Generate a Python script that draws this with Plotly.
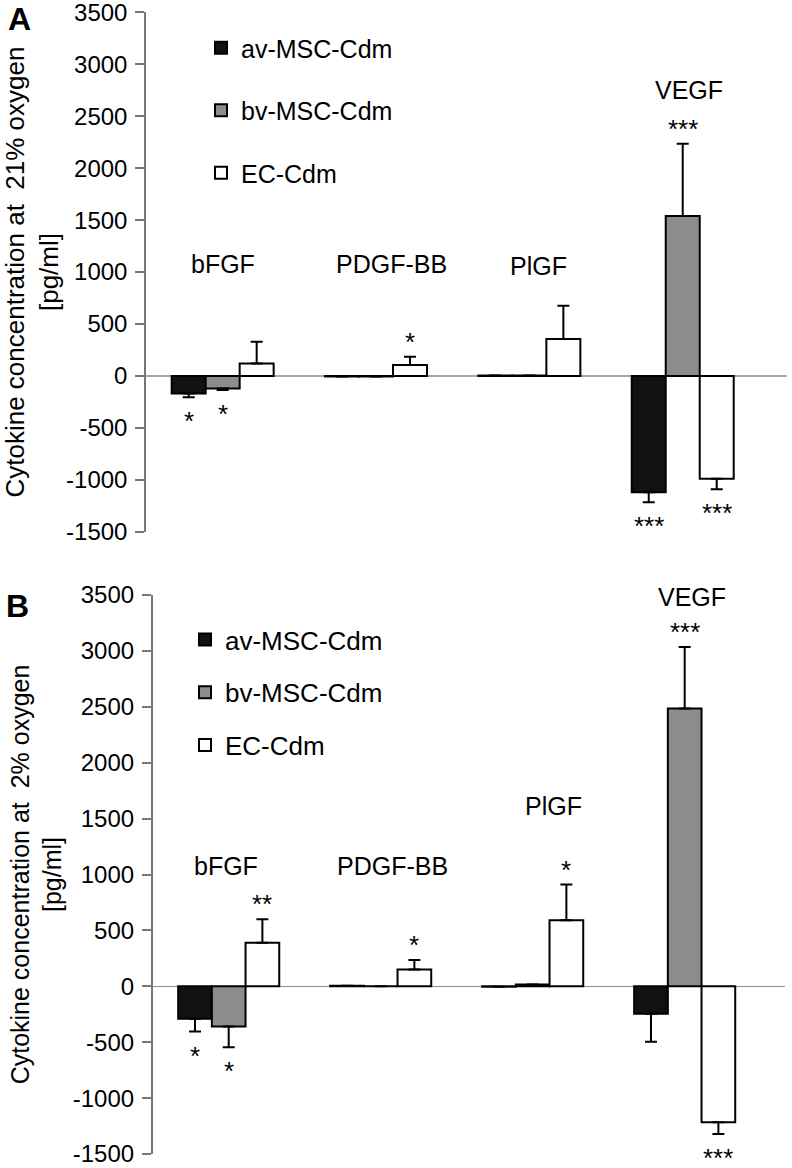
import plotly.graph_objects as go

categories = ["bFGF", "PDGF-BB", "PlGF", "VEGF"]
series_names = ["av-MSC-Cdm", "bv-MSC-Cdm", "EC-Cdm"]
series_colors = ["#111111", "#8c8c8c", "#ffffff"]

# Panel A: 21% oxygen
a_av = [-170, -5, 5, -1120]
a_av_err = [35, 0, 0, 95]
a_bv = [-120, -5, 5, 1540]
a_bv_err = [15, 0, 0, 695]
a_ec = [120, 105, 355, -990]
a_ec_err = [210, 80, 320, 100]
a_av_sig = ["*", "", "", "***"]
a_bv_sig = ["*", "", "", "***"]
a_ec_sig = ["", "*", "", "***"]

# Panel B: 2% oxygen
b_av = [-290, 5, -5, -245]
b_av_err = [115, 0, 0, 250]
b_bv = [-360, 0, 15, 2485]
b_bv_err = [185, 0, 0, 550]
b_ec = [390, 150, 590, -1215]
b_ec_err = [210, 85, 320, 105]
b_av_sig = ["*", "", "", ""]
b_bv_sig = ["*", "", "", "***"]
b_ec_sig = ["**", "*", "*", "***"]

y_ticks = [-1500, -1000, -500, 0, 500, 1000, 1500, 2000, 2500, 3000, 3500]
y_tick_labels = [str(v) for v in y_ticks]

panels = [
    dict(vals=[a_av, a_bv, a_ec], errs=[a_av_err, a_bv_err, a_ec_err],
         sigs=[a_av_sig, a_bv_sig, a_ec_sig], xa="x", ya="y", legend="legend",
         title="Cytokine concentration at  21% oxygen<br>[pg/ml]"),
    dict(vals=[b_av, b_bv, b_ec], errs=[b_av_err, b_bv_err, b_ec_err],
         sigs=[b_av_sig, b_bv_sig, b_ec_sig], xa="x2", ya="y2", legend="legend2",
         title="Cytokine concentration at  2% oxygen<br>[pg/ml]"),
]

FONT = "Liberation Sans, Arial, sans-serif"
BARGAP = 0.335
bar_w = (1 - BARGAP) / 3

fig = go.Figure()
annotations = []
for p in panels:
    for k, name in enumerate(series_names):
        vals = p["vals"][k]
        errs = p["errs"][k]
        plus = [e if v >= 0 else 0 for v, e in zip(vals, errs)]
        minus = [e if v < 0 else 0 for v, e in zip(vals, errs)]
        fig.add_trace(go.Bar(
            x=categories, y=vals, name=name,
            marker=dict(color=series_colors[k], line=dict(color="#000000", width=2)),
            error_y=dict(type="data", symmetric=False, array=plus, arrayminus=minus,
                         color="#000000", thickness=2, width=6),
            xaxis=p["xa"], yaxis=p["ya"], legend=p["legend"],
            legendgroup=p["legend"] + name, showlegend=True,
        ))
        # significance markers
        for i, s in enumerate(p["sigs"][k]):
            if not s:
                continue
            v, e = vals[i], errs[i]
            end = v + e if v >= 0 else v - e
            annotations.append(dict(
                x=i + (k - 1) * bar_w, y=end, xref=p["xa"], yref=p["ya"],
                text=s, showarrow=False, yanchor="middle", height=22,
                yshift=15 if v >= 0 else -24,
                font=dict(size=26, color="#000000", family=FONT),
            ))

# category labels (positions in data units of each panel)
label_pos_a = [(0.0, 1080), (1.1, 1080), (2.06, 1060), (3.04, 2750)]
label_pos_b = [(-0.02, 1080), (1.08, 1080), (2.14, 1610), (3.05, 3480)]
for (xa, ya, pos) in [("x", "y", label_pos_a), ("x2", "y2", label_pos_b)]:
    for cat, (px, py) in zip(categories, pos):
        annotations.append(dict(
            x=px, y=py, xref=xa, yref=ya, text=cat, showarrow=False,
            yanchor="middle", font=dict(size=25, color="#000000", family=FONT),
        ))

# panel letters
annotations.append(dict(x=19 / 792, y=1 - 19 / 1168, xref="paper", yref="paper",
                        text="<b>A</b>", showarrow=False, xanchor="center", yanchor="middle",
                        font=dict(size=32, color="#000000", family=FONT)))
annotations.append(dict(x=17 / 792, y=1 - 606 / 1168, xref="paper", yref="paper",
                        text="<b>B</b>", showarrow=False, xanchor="center", yanchor="middle",
                        font=dict(size=32, color="#000000", family=FONT)))

yaxis_common = dict(
    range=[-1500, 3500], tickvals=y_ticks, ticktext=y_tick_labels, ticks="outside", ticklen=9,
    tickcolor="#777777", tickwidth=1.5, showline=True, linecolor="#777777",
    linewidth=1.5, showgrid=False, zeroline=True, zerolinecolor="#a6a6a6",
    zerolinewidth=1.5, tickfont=dict(size=24, color="#000000", family=FONT),
    automargin=False, ticklabelstandoff=3, ticklabeloverflow="allow",
)
xaxis_common = dict(showticklabels=False, showline=False, ticks="", showgrid=False,
                    zeroline=False, automargin=False)

fig.update_layout(
    width=792, height=1168, margin=dict(l=0, r=0, t=0, b=0),
    paper_bgcolor="#ffffff", plot_bgcolor="#ffffff",
    barmode="group", bargap=BARGAP, bargroupgap=0,
    font=dict(family=FONT, size=25, color="#000000"),
    xaxis=dict(domain=[146 / 792, 787 / 792], range=[-0.5, 3.68], anchor="y", **xaxis_common),
    yaxis=dict(domain=[1 - 531.8 / 1168, 1 - 12.3 / 1168], anchor="x",
               title=dict(text=panels[0]["title"], standoff=5,
                          font=dict(size=26, color="#000000", family=FONT)),
               **yaxis_common),
    xaxis2=dict(domain=[152.7 / 792, 785 / 792], range=[-0.5, 3.66], anchor="y2", **xaxis_common),
    yaxis2=dict(domain=[1 - 1154 / 1168, 1 - 595 / 1168], anchor="x2",
                title=dict(text=panels[1]["title"], standoff=4,
                           font=dict(size=25, color="#000000", family=FONT)),
                **{**yaxis_common, "zerolinecolor": "#909090", "zerolinewidth": 1}),
    legend=dict(x=201 / 792, y=1 - 25 / 1168, xanchor="left", yanchor="top",
                bgcolor="rgba(0,0,0,0)", tracegroupgap=27, traceorder="grouped",
                font=dict(size=25, color="#000000", family=FONT)),
    legend2=dict(x=185 / 792, y=1 - 616 / 1168, xanchor="left", yanchor="top",
                 bgcolor="rgba(0,0,0,0)", tracegroupgap=16, traceorder="grouped",
                 font=dict(size=26, color="#000000", family=FONT)),
    annotations=annotations,
    showlegend=True,
)

fig.write_html("out.html", config={"displayModeBar": False},
               post_script="document.body.style.margin='0';")
